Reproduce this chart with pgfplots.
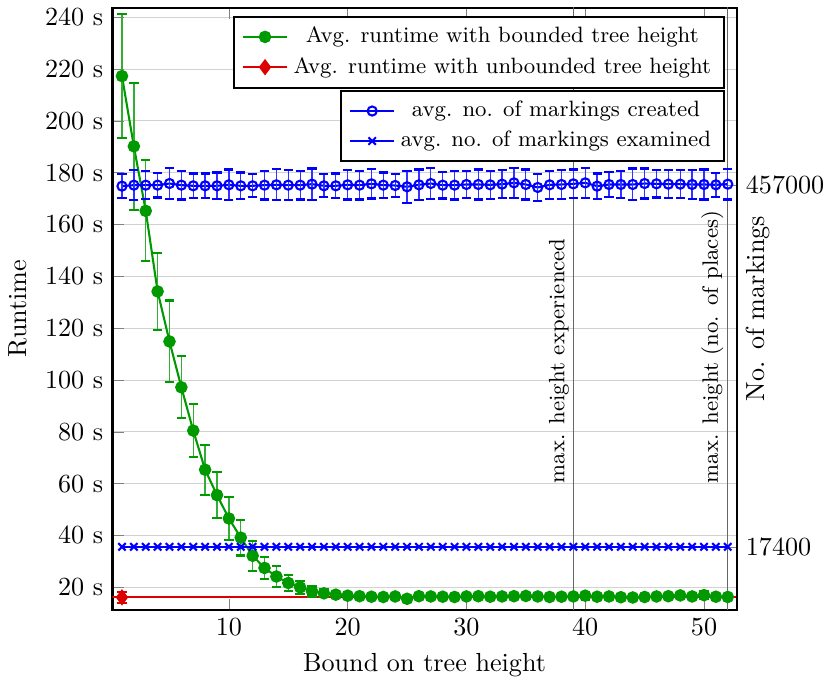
\documentclass[border=0pt]{standalone}
\usepackage{pgfplots}
\pgfplotsset{compat=1.18}
\usepackage{pgfplotstable}
\definecolor{cgreen}{RGB}{0,153,0}
\definecolor{cred}{RGB}{220,0,0}
\definecolor{cblue}{RGB}{0,0,255}

\pgfplotstableread{
x y e
1 217.3 24
2 190.2 24.5
3 165.3 19.5
4 134.2 15
5 114.9 15.8
6 97.2 12
7 80.5 10.3
8 65.4 9.6
9 55.6 9
10 46.6 8.3
11 39.2 6.9
12 32.2 5.8
13 27.5 4.4
14 24.2 4
15 21.7 3
16 20.0 2.5
17 18.5 2
18 17.7 1.5
19 17.2 1.2
20 16.8 1
21 16.6 1
22 16.4 1
23 16.3 1
24 16.5 1
25 15.6 1
26 16.6 1
27 16.5 1
28 16.4 1
29 16.3 1
30 16.5 1
31 16.6 1
32 16.4 1
33 16.5 1
34 16.6 1
35 16.7 1
36 16.5 1
37 16.3 1
38 16.4 1
39 16.5 1
40 16.8 1.5
41 16.4 1
42 16.5 1
43 16.2 1
44 16.1 1
45 16.3 1
46 16.5 1
47 16.6 1
48 16.9 1.2
49 16.5 1
50 17.0 1.5
51 16.4 1
52 16.3 1
}\greendata

\pgfplotstableread{
x y e
1 16.15 2
}\reddata

\pgfplotstableread{
x y
0 16.15
60 16.15
}\redline

\pgfplotstableread{
x y e
1 455800 14500
2 457000 18200
3 457000 17000
4 457000 15000
5 459000 19000
6 457000 17400
7 456200 15000
8 456200 15000
9 456200 16200
10 457400 18600
11 456200 16200
12 456200 14100
13 457000 17400
14 457400 19000
15 457000 18200
16 457000 17400
17 458200 19000
18 456200 14100
19 456200 15000
20 457400 17800
21 457000 17400
22 458600 17800
23 457000 15400
24 456600 14500
25 455000 19400
26 457400 18600
27 459000 19000
28 457000 16200
29 457000 17400
30 457800 16600
31 457800 18200
32 457400 17000
33 458200 17000
34 459800 18600
35 457800 18200
36 454200 16200
37 457400 17000
38 457800 17400
39 458600 17400
40 459800 18600
41 455800 15400
42 457800 15400
43 457800 16600
44 457800 19400
45 459000 18200
46 458600 16600
47 458200 17000
48 458200 17000
49 457800 17400
50 457800 18200
51 457400 14500
52 458200 18600
}\createddata

\pgfplotstableread{
x y
1 17400
2 17400
3 17400
4 17400
5 17400
6 17400
7 17400
8 17400
9 17400
10 17400
11 17400
12 17400
13 17400
14 17400
15 17400
16 17400
17 17400
18 17400
19 17400
20 17400
21 17400
22 17400
23 17400
24 17400
25 17400
26 17400
27 17400
28 17400
29 17400
30 17400
31 17400
32 17400
33 17400
34 17400
35 17400
36 17400
37 17400
38 17400
39 17400
40 17400
41 17400
42 17400
43 17400
44 17400
45 17400
46 17400
47 17400
48 17400
49 17400
50 17400
51 17400
52 17400
}\examineddata

\begin{document}
\begin{tikzpicture}
\begin{axis}[
  scale only axis, width=238.9pt, height=230.4pt,
  xmin=0.2, xmax=52.75, ymin=11.4, ymax=243.7,
  xtick={10,20,30,40,50},
  ytick={20,40,...,240},
  yticklabel={$\pgfmathprintnumber{\tick}$~s},
  ytick pos=left,
  ymajorgrids, grid style={gray!35},
  axis line style={line width=0.8pt},
  xlabel={Bound on tree height}, ylabel={Runtime},
  reverse legend, legend cell align=center,
  legend style={at={(0.9815,0.987)}, anchor=north east, draw=black, line width=0.8pt,
    font=\fontsize{8.5}{10}\selectfont},
]
\addplot[gray!80!black, line width=0.45pt, forget plot] coordinates {(39,0) (39,300)};
\addplot[gray!80!black, line width=0.45pt, forget plot] coordinates {(52,0) (52,300)};
\node[rotate=90, anchor=south west, inner sep=1.5pt, font=\fontsize{8.5}{10}\selectfont] at (axis cs:39,58.5) {max. height experienced};
\node[rotate=90, anchor=south west, inner sep=1.5pt, font=\fontsize{8.5}{10}\selectfont] at (axis cs:52,58.5) {max. height (no. of places)};

\addplot[draw=cred, line width=0.8pt, no markers, forget plot] table[x=x, y=y] {\redline};

\addplot[draw=cred, fill=cred, color=cred, line width=0.8pt, mark=diamond*, mark size=2.5pt,
  mark options={solid, draw=cred, fill=cred},
  error bars/.cd, y dir=both, y explicit,
  error bar style={line width=0.5pt, cred},
  error mark options={rotate=90, mark size=1.8pt, line width=0.8pt, cred}]
  table[x=x, y=y, y error=e] {\reddata};
\addlegendentry{Avg. runtime with unbounded tree height}

\addplot[color=cgreen, line width=0.8pt, mark=*, mark size=2pt,
  mark options={solid, fill=cgreen},
  error bars/.cd, y dir=both, y explicit,
  error bar style={line width=0.5pt, cgreen!80},
  error mark options={rotate=90, mark size=1.8pt, line width=0.8pt, cgreen}]
  table[x=x, y=y, y error=e] {\greendata};
\addlegendentry{Avg. runtime with bounded tree height}
\end{axis}

\begin{axis}[
  scale only axis, width=238.9pt, height=230.4pt,
  xmin=0.2, xmax=52.75, ymin=-59000, ymax=672700,
  axis y line*=right, axis x line=none,
  axis line style={line width=0.8pt},
  scaled y ticks=false,
  ytick={17400,457000}, yticklabels={17400,457000},
  ylabel={No. of markings},
  ylabel style={at={(axis description cs:1,0.5)}, anchor=north, rotate=0},
  legend cell align=center,
  legend style={at={(0.9815,0.8637)}, anchor=north east, draw=black, line width=0.8pt,
    font=\fontsize{8.5}{10}\selectfont},
]
\addplot[color=cblue, line width=0.8pt, mark=o, mark size=1.75pt,
  mark options={solid},
  error bars/.cd, y dir=both, y explicit,
  error bar style={line width=0.5pt, cblue!80},
  error mark options={rotate=90, mark size=1.75pt, line width=0.8pt, cblue}]
  table[x=x, y=y, y error=e] {\createddata};
\addlegendentry{avg. no. of markings created}

\addplot[color=cblue, line width=0.8pt, mark=x, mark size=2pt, mark options={solid}]
  table[x=x, y=y] {\examineddata};
\addlegendentry{avg. no. of markings examined}
\end{axis}
\end{tikzpicture}
\end{document}
